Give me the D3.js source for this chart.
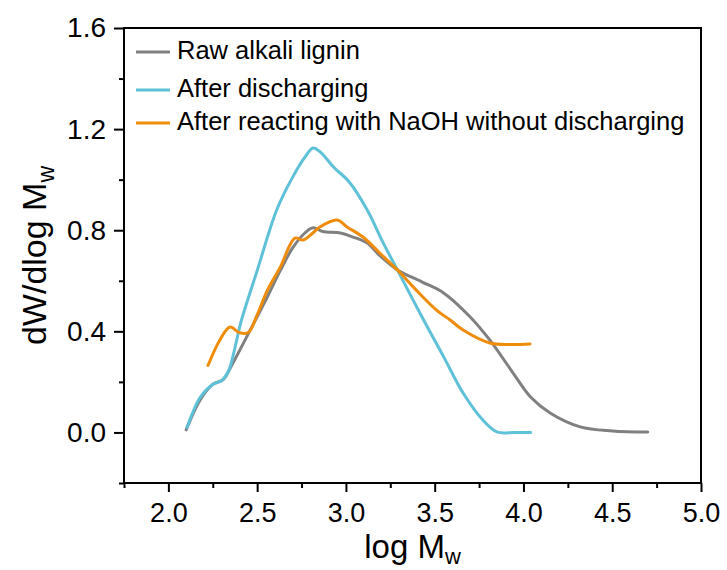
<!DOCTYPE html>
<html>
<head>
<meta charset="utf-8">
<script src="https://cdn.jsdelivr.net/npm/d3@7"></script>
<style>
  html, body { margin: 0; padding: 0; background: #fff; }
  svg { display: block; }
  text { font-family: Arial, "Liberation Sans", sans-serif; fill: #000; }
</style>
</head>
<body>
<svg id="chart"></svg>
<script>
// series (log Mw, dW/dlog Mw)
const rawX = [2.10, 2.18, 2.25, 2.31, 2.36, 2.45, 2.56, 2.63, 2.70, 2.77, 2.815, 2.87, 2.97, 3.04, 3.12, 3.19, 3.29, 3.43, 3.55, 3.70, 3.81, 3.93, 4.04, 4.15, 4.32, 4.50, 4.70];
const rawY = [0.01, 0.13, 0.19, 0.21, 0.27, 0.39, 0.54, 0.64, 0.73, 0.79, 0.81, 0.795, 0.789, 0.773, 0.749, 0.70, 0.643, 0.595, 0.552, 0.457, 0.366, 0.247, 0.14, 0.077, 0.022, 0.006, 0.002];

const disX = [2.105, 2.18, 2.25, 2.30, 2.34, 2.37, 2.41, 2.50, 2.61, 2.70, 2.77, 2.815, 2.855, 2.93, 3.02, 3.12, 3.21, 3.29, 3.43, 3.55, 3.66, 3.77, 3.85, 3.95, 4.04];
const disY = [0.02, 0.14, 0.19, 0.205, 0.245, 0.32, 0.44, 0.64, 0.88, 1.01, 1.09, 1.125, 1.11, 1.05, 0.99, 0.88, 0.75, 0.643, 0.455, 0.30, 0.156, 0.05, 0.002, 0.0, 0.0];

const naohX = [2.223, 2.29, 2.347, 2.40, 2.45, 2.50, 2.556, 2.63, 2.713, 2.758, 2.815, 2.854, 2.95, 3.006, 3.096, 3.19, 3.29, 3.38, 3.51, 3.587, 3.66, 3.81, 3.92, 4.037];
const naohY = [0.265, 0.366, 0.417, 0.395, 0.395, 0.465, 0.56, 0.654, 0.769, 0.761, 0.79, 0.813, 0.84, 0.813, 0.773, 0.71, 0.643, 0.575, 0.484, 0.445, 0.405, 0.354, 0.348, 0.35];

const seriesNames = ["Raw alkali lignin", "After discharging", "After reacting with NaOH without discharging"];
const seriesColors = ["#808080", "#5fc1d7", "#ef8d0a"];

const xTicks = [2.0, 2.5, 3.0, 3.5, 4.0, 4.5, 5.0];
const yTicks = [0.0, 0.4, 0.8, 1.2, 1.6];

const svgWidth = 727, svgHeight = 570;
const margin = { top: 28, right: 26, bottom: 87, left: 124 };
const width = svgWidth - margin.left - margin.right;
const height = svgHeight - margin.top - margin.bottom;

const svg = d3.select("#chart")
    .attr("width", svgWidth)
    .attr("height", svgHeight);

const g = svg.append("g")
    .attr("transform", "translate(" + margin.left + "," + margin.top + ")");

const x = d3.scaleLinear().domain([1.75, 5.0]).range([0, width]);
const y = d3.scaleLinear().domain([-0.2, 1.6]).range([height, 0]);

// minor ticks first, majors drawn over them
g.append("g")
    .attr("transform", "translate(0," + height + ")")
    .call(d3.axisBottom(x).tickValues(d3.range(7).map(i => 1.75 + i * 0.5)).tickSize(5).tickFormat(""))
    .call(a => a.select(".domain").remove())
    .selectAll("line").attr("stroke-width", 2);

g.append("g")
    .call(d3.axisLeft(y).tickValues(d3.range(5).map(i => -0.2 + i * 0.4)).tickSize(5).tickFormat(""))
    .call(a => a.select(".domain").remove())
    .selectAll("line").attr("stroke-width", 2);

const xAxis = g.append("g")
    .attr("transform", "translate(0," + height + ")")
    .call(d3.axisBottom(x).tickValues(xTicks).tickSize(9).tickPadding(11).tickFormat(d3.format(".1f")));
xAxis.select(".domain").remove();
xAxis.selectAll("line").attr("stroke-width", 2);
xAxis.selectAll("text").style("font-size", "27px").attr("fill", "#000");

const yAxis = g.append("g")
    .call(d3.axisLeft(y).tickValues(yTicks).tickSize(10).tickPadding(8).tickFormat(d3.format(".1f")));
yAxis.select(".domain").remove();
yAxis.selectAll("line").attr("stroke-width", 2);
yAxis.selectAll("text").style("font-size", "28px").attr("fill", "#000");

// frame
g.append("rect")
    .attr("x", 0).attr("y", 0)
    .attr("width", width).attr("height", height)
    .attr("fill", "none")
    .attr("stroke", "#000")
    .attr("stroke-width", 2);

// curves
const line = d3.line()
    .x(d => x(d[0]))
    .y(d => y(d[1]))
    .curve(d3.curveCatmullRom.alpha(0.5));

const series = [
    d3.zip(rawX, rawY),
    d3.zip(disX, disY),
    d3.zip(naohX, naohY)
];

series.forEach((s, i) => {
    g.append("path")
        .datum(s)
        .attr("fill", "none")
        .attr("stroke", seriesColors[i])
        .attr("stroke-width", 3)
        .attr("stroke-linejoin", "round")
        .attr("stroke-linecap", "round")
        .attr("d", line);
});

// legend
const legendRowY = [24, 62, 95];
const legend = g.append("g");
seriesNames.forEach((name, i) => {
    legend.append("line")
        .attr("x1", 12).attr("x2", 46)
        .attr("y1", legendRowY[i]).attr("y2", legendRowY[i])
        .attr("stroke", seriesColors[i])
        .attr("stroke-width", 3);
    legend.append("text")
        .attr("x", 53)
        .attr("y", legendRowY[i] + 7)
        .style("font-size", "25.5px")
        .text(name);
});

// axis titles
const xTitle = svg.append("text")
    .attr("x", margin.left + width / 2)
    .attr("y", 558)
    .attr("text-anchor", "middle")
    .style("font-size", "33px");
xTitle.append("tspan").text("log M");
xTitle.append("tspan").attr("dy", 6).style("font-size", "22px").text("w");

const yTitle = svg.append("text")
    .attr("transform", "translate(46," + (margin.top + height / 2) + ") rotate(-90)")
    .attr("text-anchor", "middle")
    .style("font-size", "34px");
yTitle.append("tspan").text("dW/dlog M");
yTitle.append("tspan").attr("dy", 8).style("font-size", "23px").text("w");
</script>
</body>
</html>
